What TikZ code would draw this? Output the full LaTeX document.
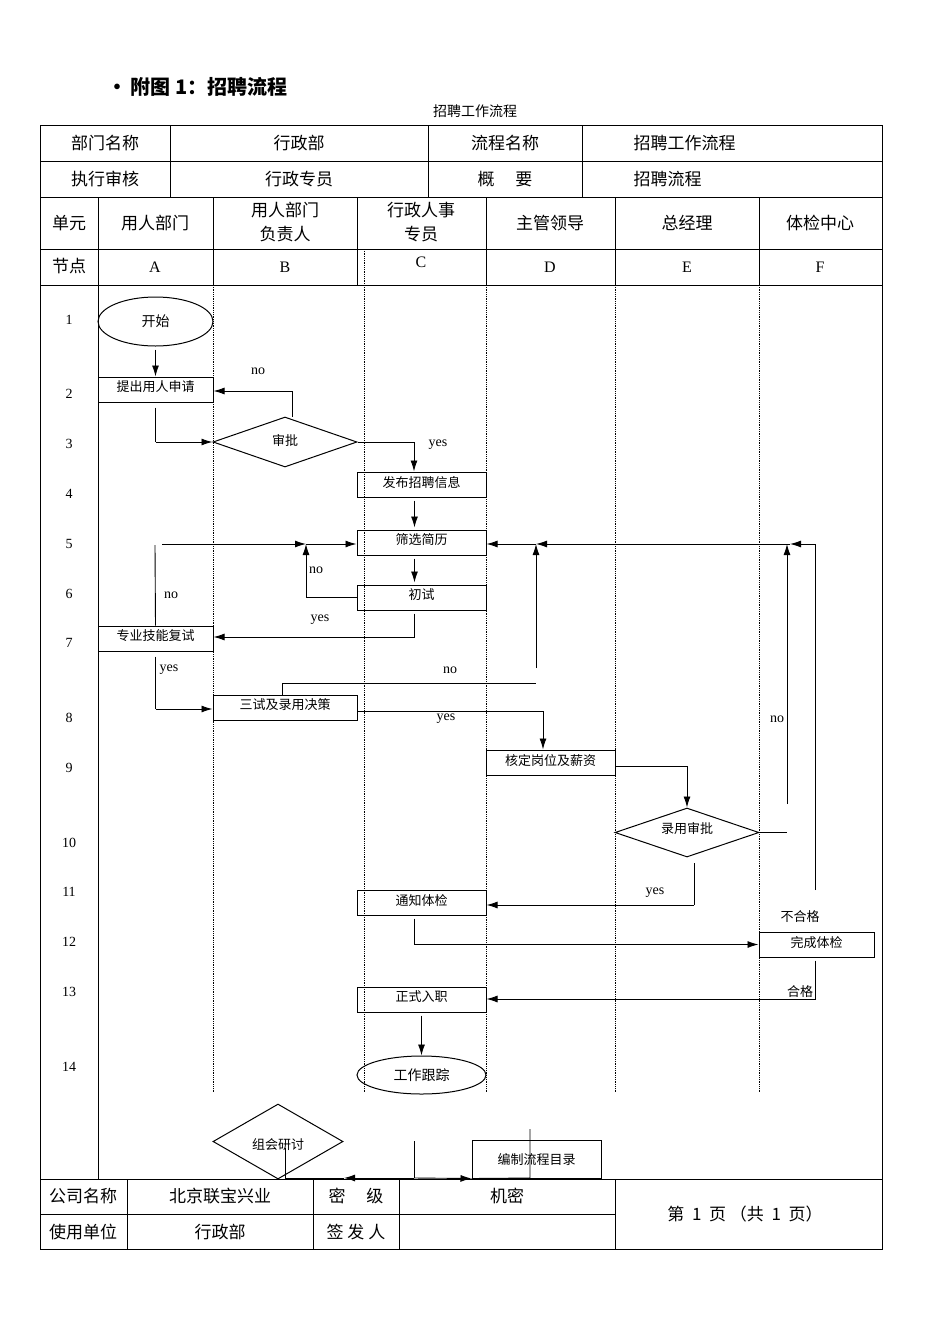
\documentclass[tikz,border=0pt]{standalone}
\usepackage{fontspec}
\setmainfont{Liberation Serif}
\newfontfamily\cjk{Noto Sans CJK SC}
\usetikzlibrary{arrows.meta,shapes.geometric,calc}
\begin{document}
\begin{tikzpicture}[x=1pt,y=-1pt,
  tbl/.style={line width=0.8pt},
  lane/.style={densely dotted,line width=0.8pt},
  hd/.style={font=\cjk\fontsize{17}{20}\selectfont},
  lt/.style={font=\fontsize{16}{18}\selectfont},
  box/.style={draw,line width=1pt,minimum width=129pt,minimum height=25pt,inner sep=0pt,font=\cjk\fontsize{13}{15}\selectfont,text depth=6pt},
  dia/.style={draw,diamond,line width=1pt,inner sep=0pt,font=\cjk\fontsize{13}{15}\selectfont},
  ell/.style={draw,ellipse,line width=1pt,inner sep=0pt,font=\cjk\fontsize{14}{16}\selectfont},
  lbl/.style={font=\fontsize{14}{16}\selectfont},
  clbl/.style={font=\cjk\fontsize{13}{15}\selectfont},
  arr/.style={line width=0.9pt,-{Latex[length=11pt,width=7pt]}},
  ln/.style={line width=0.9pt}]
\useasboundingbox[fill=white] (0,0) rectangle (950,1344);
% title
\node[font=\cjk\bfseries\fontsize{20}{24}\selectfont,anchor=west] (title) at (104,87) {•\,附图 1：招聘流程};
\node[font=\cjk\fontsize{14}{16}\selectfont] (sub) at (475,111) {招聘工作流程};
% table frame
\draw[tbl] (40,125) rectangle (882,1249);
\foreach \y in {161,197,249,285,1179} \draw[tbl] (40,\y) -- (882,\y);
\draw[tbl] (40,1214) -- (615,1214);
\foreach \x in {170,428,582} \draw[tbl] (\x,125) -- (\x,197);
\foreach \x in {98,213,357,486,615,759} \draw[tbl] (\x,197) -- (\x,285);
\draw[tbl] (98,285) -- (98,1179);
\draw[lane] (364,249) -- (364,285);
\foreach \x in {213,364,486,615,759} \draw[lane] (\x,285) -- (\x,1092);
\foreach \x in {127,313,399,615} \draw[tbl] (\x,1179) -- (\x,1249);
% header texts
\node[hd] (h1) at (105,143) {部门名称};
\node[hd] (h2) at (299,143) {行政部};
\node[hd] (h3) at (505,143) {流程名称};
\node[hd,anchor=west] (h4) at (630,143) {招聘工作流程};
\node[hd] (h5) at (105,179) {执行审核};
\node[hd] (h6) at (299,179) {行政专员};
\node[hd] (h7) at (505,179) {概\quad\ 要};
\node[hd,anchor=west] (h8) at (630,179) {招聘流程};
\node[hd] (u0) at (69,223) {单元};
\node[hd] (u1) at (155,223) {用人部门};
\node[hd,align=center,font=\cjk\fontsize{17}{24}\selectfont] (u2) at (285,222) {用人部门\\负责人};
\node[hd,align=center,font=\cjk\fontsize{17}{24}\selectfont] (u3) at (421,222) {行政人事\\专员};
\node[hd] (u4) at (550,223) {主管领导};
\node[hd] (u5) at (687,223) {总经理};
\node[hd] (u6) at (820,223) {体检中心};
\node[hd] (n0) at (69,266) {节点};
\node[lt] (nA) at (155,267) {A};
\node[lt] (nB) at (285,267) {B};
\node[lt] (nC) at (421,262) {C};
\node[lt] (nD) at (550,267) {D};
\node[lt] (nE) at (687,267) {E};
\node[lt] (nF) at (820,267) {F};
% row numbers
\foreach \n/\y in {1/320,2/394,3/444,4/494,5/544,6/594,7/643,8/718,9/768,10/843,11/892,12/942,13/992,14/1067}
  \node[lbl] (r\n) at (69,\y) {\n};
% shapes
\node[ell,minimum width=115pt,minimum height=49pt] (start) at (155.5,321.5) {开始};
\node[box,minimum width=115pt] (req) at (155.5,389.5) {提出用人申请};
\node[dia,minimum width=144pt,minimum height=50pt,aspect=2.88] (appr) at (285,442) {};
\node[clbl] (apprt) at (285,440) {审批};
\node[box] (pub) at (421.5,484.5) {发布招聘信息};
\node[box] (scr) at (421.5,542.5) {筛选简历};
\node[box] (ini) at (421.5,597.5) {初试};
\node[box,minimum width=115pt] (pro) at (155.5,638.5) {专业技能复试};
\node[box,minimum width=144pt] (third) at (285,707.5) {三试及录用决策};
\node[box] (sal) at (550.5,762.5) {核定岗位及薪资};
\node[dia,minimum width=144pt,minimum height=49pt,aspect=2.9] (hire) at (687,832.5) {};
\node[clbl] (hiret) at (687,829) {录用审批};
\node[box] (note) at (421.5,902.5) {通知体检};
\node[box,minimum width=115pt] (med) at (816.5,944.5) {完成体检};
\node[box] (join) at (421.5,999.5) {正式入职};
\node[ell,minimum width=129pt,minimum height=38pt] (track) at (421.5,1075) {工作跟踪};
\node[dia,minimum width=130pt,minimum height=75pt,aspect=1.7] (meet) at (278,1141.5) {};
\node[clbl] (meett) at (278,1145) {组会研讨};
\node[box,minimum height=38pt,text depth=0pt] (cat) at (536.5,1159) {编制流程目录};
% labels
\node[lbl] (l1) at (258,371) {no};
\node[lbl] (l2) at (438,445) {yes};
\node[lbl] (l3) at (316,570) {no};
\node[lbl] (l4) at (320,620) {yes};
\node[lbl] (l5) at (171,595) {no};
\node[lbl] (l6) at (169,670) {yes};
\node[lbl] (l7) at (450,670) {no};
\node[lbl] (l8) at (446,719) {yes};
\node[lbl] (l9) at (777,719) {no};
\node[lbl] (l10) at (655,893) {yes};
\node[clbl] (l11) at (800,917) {不合格};
\node[clbl] (l12) at (800,992) {合格};
% connectors
\draw[arr] (start.south) ++(0,3) -- (req.north);
\draw[arr] (appr.north) ++(7,0) |- (req.east |- 0,391);
\draw[ln] (req.south) ++(0,5) coordinate (c1) -- (c1 |- appr.west);
\draw[arr] (c1 |- appr.west) -- (appr.west);
\coordinate (c2) at (414,442);
\draw[ln] (appr.east) -- (c2);
\draw[arr] (c2) -- (c2 |- pub.north);
\draw[arr] (pub.south) ++(-7,3) -- ($(scr.north)+(-7,-2)$);
\draw[arr] (scr.south) ++(-7,3) -- ($(ini.north)+(-7,-2)$);
\coordinate (c3) at (306,544);
\draw[arr] (ini.west) -- (c3 |- ini.west) -- (c3);
\coordinate (c4) at (162,544);
\draw[arr] (c4) -- (c3);
\draw[arr] (c3) -- (scr.west |- c3);
\draw[ln] (155,545) -- (pro.north);
\draw[ln] (ini.south) ++(-7,3) coordinate (c5) -- (c5 |- 0,637);
\draw[arr] (c5 |- 0,637) -- (pro.east |- 0,637);
\draw[ln] (pro.south) ++(0,5) coordinate (c6) -- (c6 |- 0,709);
\draw[arr] (c6 |- 0,709) -- (third.west |- 0,709);
\draw[ln] ($(third.north)+(-3,0)$) |- (536,683);
\coordinate (c7) at (536,668);
\draw[arr] (c7) -- (536,544);
\coordinate (c8) at (815,544);
\draw[arr] (c8) -- (790,544);
\draw[arr] (790,544) -- (536,544);
\draw[arr] (536,544) -- (scr.east |- 0,544);
\draw[arr] (third.east |- 0,711) -| (sal.north -| 543,0);
\draw[arr] (sal.east |- 0,766) -| (hire.north);
\coordinate (c14) at (787,832.5);
\draw[ln] (hire.east) -- (c14);
\coordinate (c9) at (787,804);
\draw[arr] (c9) -- (787,544);
\draw[ln] (694,863) coordinate (c10) -- (694,905);
\draw[arr] (694,905) -- (note.east |- 0,905);
\draw[ln] (note.south) ++(-7,3) coordinate (c11) -- (c11 |- med.west);
\draw[arr] (c11 |- med.west) -- (med.west);
\draw[ln] (815,890) -- (c8);
\draw[ln] (med.south) ++(-1,3) coordinate (c12) -- (c12 |- 0,999);
\draw[arr] (c12 |- 0,999) -- (join.east |- 0,999);
\draw[arr] (join.south) ++(0,3) -- (track.north);
% bottom
\coordinate (c13) at (414,1178);
\draw[ln] (414,1141) -- (c13);
\draw[arr] (c13) -- (344,1178);
\draw[ln] (285,1148) -- (285,1178) -- (344,1178);
\draw[arr] (c13) -- (cat.south west);
\draw[ln] (530,1129) -- (530,1178) -- (cat.south west);
% footer texts
\node[hd] (f1) at (83,1196) {公司名称};
\node[hd] (f2) at (220,1196) {北京联宝兴业};
\node[hd] (f3) at (356,1196) {密\quad\ 级};
\node[hd] (f4) at (507,1196) {机密};
\node[hd] (f5) at (83,1232) {使用单位};
\node[hd] (f6) at (220,1232) {行政部};
\node[hd] (f7) at (356,1232) {签\ 发\ 人};
\node[hd] (f8) at (745,1214) {第\ \ 1\ \ 页\ （共\ \ 1\ \ 页）};
\end{tikzpicture}
\end{document}
